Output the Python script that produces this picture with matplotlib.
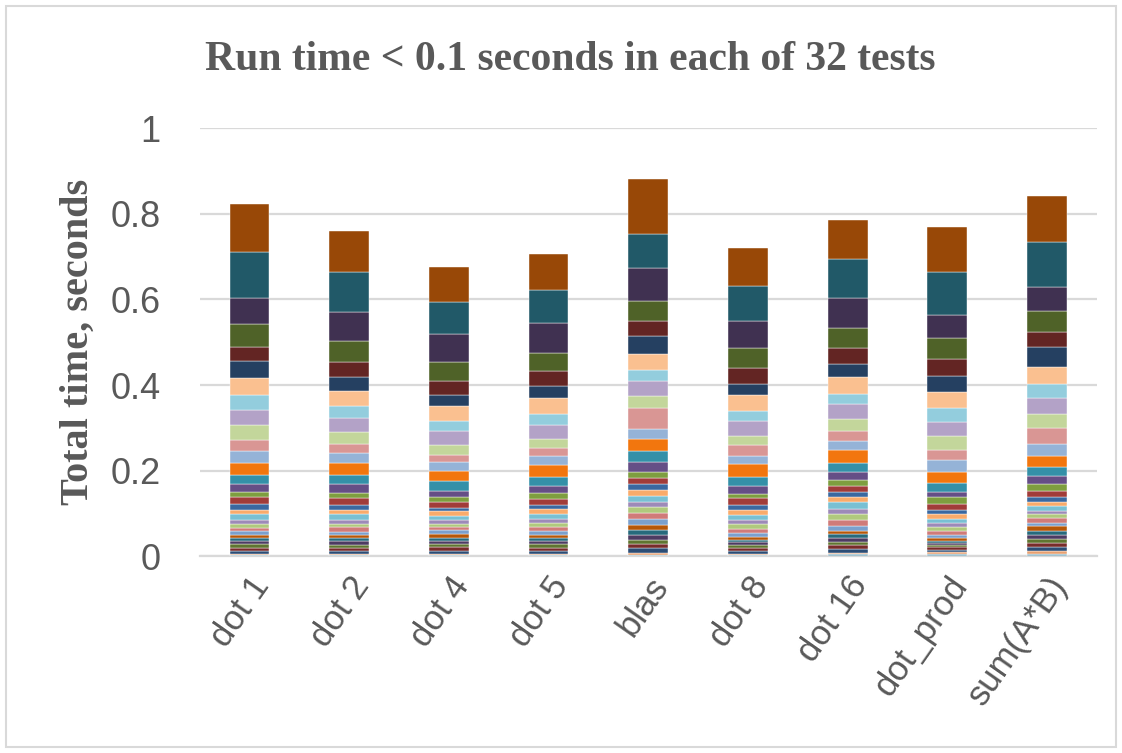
import matplotlib

matplotlib.use("Agg")
import matplotlib.pyplot as plt
import numpy as np
from matplotlib.patches import Rectangle

# ---- data: 32 test run times per method, bottom segment first ----
methods = ["dot 1", "dot 2", "dot 4", "dot 5", "blas", "dot 8", "dot 16",
           "dot_prod", "sum(A*B)"]

dot1 = [0.003, 0.002, 0.008, 0.007, 0.008, 0.007, 0.008, 0.007,
        0.010, 0.007, 0.009, 0.010, 0.012, 0.011, 0.014, 0.015,
        0.013, 0.018, 0.021, 0.029, 0.028, 0.025, 0.035, 0.036,
        0.035, 0.039, 0.039, 0.034, 0.052, 0.061, 0.108, 0.112]
dot2 = [0.003, 0.002, 0.007, 0.008, 0.007, 0.008, 0.007, 0.008,
        0.008, 0.010, 0.008, 0.010, 0.012, 0.011, 0.011, 0.016,
        0.013, 0.020, 0.021, 0.029, 0.023, 0.021, 0.027, 0.034,
        0.028, 0.035, 0.031, 0.037, 0.048, 0.068, 0.092, 0.097]
dot4 = [0.003, 0.002, 0.008, 0.008, 0.007, 0.008, 0.008, 0.008,
        0.009, 0.007, 0.008, 0.009, 0.010, 0.010, 0.009, 0.012,
        0.012, 0.015, 0.022, 0.024, 0.022, 0.016, 0.022, 0.035,
        0.022, 0.035, 0.026, 0.033, 0.044, 0.065, 0.075, 0.082]
dot5 = [0.003, 0.002, 0.008, 0.007, 0.008, 0.008, 0.007, 0.007,
        0.010, 0.008, 0.010, 0.010, 0.011, 0.012, 0.009, 0.015,
        0.012, 0.018, 0.020, 0.028, 0.021, 0.020, 0.020, 0.034,
        0.024, 0.037, 0.030, 0.034, 0.043, 0.068, 0.078, 0.085]
blas = [0.004, 0.004, 0.011, 0.010, 0.010, 0.011, 0.012, 0.011,
        0.014, 0.015, 0.013, 0.012, 0.015, 0.014, 0.012, 0.014,
        0.014, 0.025, 0.024, 0.029, 0.024, 0.049, 0.028, 0.035,
        0.025, 0.037, 0.043, 0.035, 0.046, 0.077, 0.079, 0.129]
dot8 = [0.003, 0.003, 0.007, 0.006, 0.007, 0.007, 0.006, 0.007,
        0.009, 0.010, 0.010, 0.010, 0.012, 0.012, 0.011, 0.016,
        0.010, 0.019, 0.021, 0.029, 0.020, 0.024, 0.021, 0.036,
        0.024, 0.038, 0.025, 0.036, 0.047, 0.064, 0.081, 0.088]
dot16 = [0.005, 0.004, 0.009, 0.008, 0.008, 0.009, 0.009, 0.008,
         0.012, 0.013, 0.013, 0.012, 0.016, 0.012, 0.012, 0.015,
         0.013, 0.018, 0.023, 0.030, 0.021, 0.024, 0.027, 0.034,
         0.024, 0.039, 0.031, 0.037, 0.047, 0.071, 0.090, 0.091]
dot_prod = [0.006, 0.005, 0.005, 0.005, 0.005, 0.006, 0.005, 0.005,
            0.009, 0.008, 0.009, 0.009, 0.011, 0.010, 0.011, 0.013,
            0.016, 0.013, 0.020, 0.025, 0.028, 0.025, 0.031, 0.033,
            0.034, 0.038, 0.037, 0.039, 0.050, 0.053, 0.101, 0.104]
sum_ab = [0.006, 0.006, 0.010, 0.009, 0.010, 0.010, 0.009, 0.010,
          0.009, 0.010, 0.009, 0.009, 0.010, 0.009, 0.012, 0.015,
          0.016, 0.019, 0.021, 0.026, 0.027, 0.037, 0.034, 0.036,
          0.034, 0.039, 0.046, 0.035, 0.051, 0.054, 0.107, 0.106]

# Office-2007 style series colours, bottom segment first
COLORS = [
    "#8cb4c4", "#e8a070",
    "#2c4d75", "#772c2a", "#5f7530", "#4d3b62", "#276a7c", "#b65708",
    "#7ba0cd", "#d07b79", "#b0c97d", "#9d8ab8", "#79c0d3", "#f9ab6b",
    "#3a68a0", "#a13c39", "#7e9e3f", "#654e86", "#3490a8", "#f2760e",
    "#95b3d7", "#d99694", "#c3d69b", "#b3a2c7", "#93cddd", "#fac090",
    "#254061", "#632523", "#4f6228", "#403151", "#215968", "#984807",
]

INK = "#595959"
GRID = "#d9d9d9"

times = np.array([dot1, dot2, dot4, dot5, blas, dot8, dot16, dot_prod,
                  sum_ab]).T  # shape (32 tests, 9 methods)

fig = plt.figure(figsize=(11.22, 7.53), dpi=100)
ax = fig.add_axes([0.178, 0.261, 0.7995, 0.569])

x = np.arange(len(methods))
bottom = np.zeros(len(methods))
for k, row in enumerate(times):
    ax.bar(x, row, width=0.4, bottom=bottom, color=COLORS[k],
           edgecolor="white", linewidth=0.3, zorder=3)
    bottom += row

ax.set_xlim(-0.5, len(methods) - 0.5)
ax.set_ylim(0, 1)
ax.set_yticks([0, 0.2, 0.4, 0.6, 0.8, 1.0])
ax.set_yticklabels(["0", "0.2", "0.4", "0.6", "0.8", "1"])
ax.yaxis.grid(True, color=GRID, lw=1.6, zorder=0)
ax.set_axisbelow(True)
for side in ("top", "right", "left"):
    ax.spines[side].set_visible(False)
ax.spines["bottom"].set_color(GRID)
ax.spines["bottom"].set_linewidth(1.6)
ax.tick_params(axis="y", length=0, pad=28, labelsize=26, labelcolor=INK)
ax.tick_params(axis="x", length=0, pad=10, labelsize=25, labelcolor=INK)
for lab in ax.get_yticklabels():
    lab.set_family("Liberation Sans")

ax.set_xticks(x)
ax.set_xticklabels(methods, rotation=55, ha="right",
                   rotation_mode="anchor", family="Liberation Sans")

ax.set_ylabel("Total time, seconds", family="Liberation Serif",
              weight="bold", fontsize=29, color=INK, labelpad=10)

fig.text(570 / 1122, 1 - 60 / 753, "Run time < 0.1 seconds in each of 32 tests",
         ha="center", va="center", family="Liberation Serif", weight="bold",
         fontsize=30, color=INK)

# chart-area border
fig.add_artist(Rectangle((6 / 1122, 6 / 753), 1 - 12 / 1122, 1 - 12 / 753,
                         transform=fig.transFigure, fill=False,
                         ec=GRID, lw=1.5))

fig.savefig("out.png", dpi=100)
